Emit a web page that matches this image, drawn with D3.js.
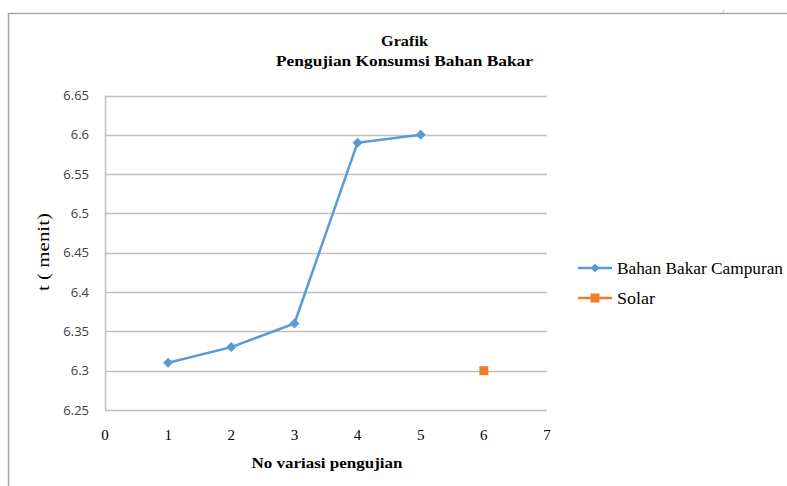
<!DOCTYPE html>
<html>
<head>
<meta charset="utf-8">
<script src="https://cdn.jsdelivr.net/npm/d3@7"></script>
<style>
  html, body { margin: 0; padding: 0; background: #fff; }
  svg { display: block; }
</style>
</head>
<body>
<svg id="chart" width="787" height="486"></svg>
<script>
// Fuel consumption test data
const campuranX = [1, 2, 3, 4, 5];
const campuranY = [6.31, 6.33, 6.36, 6.59, 6.60];
const solarX = [6];
const solarY = [6.30];
const yTicks = [6.25, 6.3, 6.35, 6.4, 6.45, 6.5, 6.55, 6.6, 6.65];
const xTicks = [0, 1, 2, 3, 4, 5, 6, 7];
const seriesNames = ["Bahan Bakar Campuran", "Solar"];
const seriesColors = ["#5B9BD5", "#ED7D31"];

const svg = d3.select("#chart");
const serif = "'Liberation Serif', 'Times New Roman', serif";
const sans = "'Open Sans', 'Liberation Sans', sans-serif";

// outer frame
svg.append("path")
  .attr("d", "M8.5,486 L8.5,13.5 L787,13.5")
  .attr("fill", "none").attr("stroke", "#a6a6a6").attr("stroke-width", 1.5);
svg.append("line").attr("x1", 723.5).attr("x2", 723.5).attr("y1", 10).attr("y2", 13)
  .attr("stroke", "#d0d0d0").attr("stroke-width", 1.5);

const x = d3.scaleLinear().domain([0, 7]).range([105, 547]);
const y = d3.scaleLinear().domain([6.25, 6.65]).range([410, 95.5]);

// horizontal gridlines
svg.append("g").selectAll("line").data(yTicks).join("line")
  .attr("x1", x(0)).attr("x2", x(7))
  .attr("y1", d => Math.round(y(d)) + 0.5).attr("y2", d => Math.round(y(d)) + 0.5)
  .attr("stroke", "#c0c0c0").attr("stroke-width", 1.5);

// vertical axis line
svg.append("line")
  .attr("x1", x(0) + 0.5).attr("x2", x(0) + 0.5)
  .attr("y1", y(6.65)).attr("y2", y(6.25))
  .attr("stroke", "#c0c0c0").attr("stroke-width", 1.5);

// y tick labels
svg.append("g").selectAll("text").data(yTicks).join("text")
  .attr("x", 89).attr("y", d => y(d)).attr("dy", "0.35em")
  .attr("text-anchor", "end")
  .attr("font-family", sans).attr("font-size", 13).attr("fill", "#404040")
  .text(d => d3.format("")(d));

// x tick labels
svg.append("g").selectAll("text").data(xTicks).join("text")
  .attr("x", d => x(d)).attr("y", 440)
  .attr("text-anchor", "middle")
  .attr("font-family", serif).attr("font-size", 15).attr("fill", "#000")
  .text(d => d);

// axis titles
svg.append("text")
  .attr("transform", `translate(49,${252}) rotate(-90)`)
  .attr("text-anchor", "middle")
  .attr("font-family", serif).attr("font-size", 16).attr("fill", "#000")
  .attr("textLength", 78).attr("lengthAdjust", "spacingAndGlyphs")
  .text("t ( menit)");

svg.append("text")
  .attr("x", 327).attr("y", 468)
  .attr("text-anchor", "middle")
  .attr("font-family", serif).attr("font-size", 15).attr("font-weight", "bold").attr("fill", "#000")
  .attr("textLength", 151).attr("lengthAdjust", "spacingAndGlyphs")
  .text("No variasi pengujian");

// title
svg.append("text")
  .attr("x", 404.5).attr("y", 46)
  .attr("text-anchor", "middle")
  .attr("font-family", serif).attr("font-size", 14).attr("font-weight", "bold").attr("fill", "#000")
  .attr("textLength", 47).attr("lengthAdjust", "spacingAndGlyphs")
  .text("Grafik");
svg.append("text")
  .attr("x", 404.5).attr("y", 66)
  .attr("text-anchor", "middle")
  .attr("font-family", serif).attr("font-size", 14).attr("font-weight", "bold").attr("fill", "#000")
  .attr("textLength", 257).attr("lengthAdjust", "spacingAndGlyphs")
  .text("Pengujian Konsumsi  Bahan Bakar");

// diamond marker as a square rotated 45°
const diamondPath = r => `M0,${-r}L${r},0L0,${r}L${-r},0Z`;

// series: Bahan Bakar Campuran
const campuran = campuranX.map((v, i) => [v, campuranY[i]]);
const line = d3.line().x(d => x(d[0])).y(d => y(d[1]));
svg.append("path").datum(campuran)
  .attr("d", line).attr("fill", "none")
  .attr("stroke", seriesColors[0]).attr("stroke-width", 2.5)
  .attr("stroke-linejoin", "round");
svg.append("g").selectAll("path").data(campuran).join("path")
  .attr("transform", d => `translate(${x(d[0])},${y(d[1])})`)
  .attr("d", diamondPath(5)).attr("fill", seriesColors[0]);

// series: Solar
const solar = solarX.map((v, i) => [v, solarY[i]]);
svg.append("g").selectAll("rect").data(solar).join("rect")
  .attr("x", d => x(d[0]) - 4.5).attr("y", d => y(d[1]) - 4.5)
  .attr("width", 9).attr("height", 9).attr("fill", seriesColors[1]);

// legend
const legend = svg.append("g");
const legendWidths = [166, 38];
seriesNames.forEach((name, i) => {
  const ly = 268 + i * 30;
  legend.append("line").attr("x1", 578).attr("x2", 612).attr("y1", ly).attr("y2", ly)
    .attr("stroke", seriesColors[i]).attr("stroke-width", 2.5);
  if (i === 0) {
    legend.append("path").attr("transform", `translate(595,${ly})`)
      .attr("d", diamondPath(4.5)).attr("fill", seriesColors[i]);
  } else {
    legend.append("rect").attr("x", 590.5).attr("y", ly - 4.5).attr("width", 9).attr("height", 9)
      .attr("fill", seriesColors[i]);
  }
  legend.append("text").attr("x", 617).attr("y", ly).attr("dy", "0.35em")
    .attr("font-family", serif).attr("font-size", 16).attr("fill", "#000")
    .attr("textLength", legendWidths[i]).attr("lengthAdjust", "spacingAndGlyphs")
    .text(name);
});
</script>
</body>
</html>
